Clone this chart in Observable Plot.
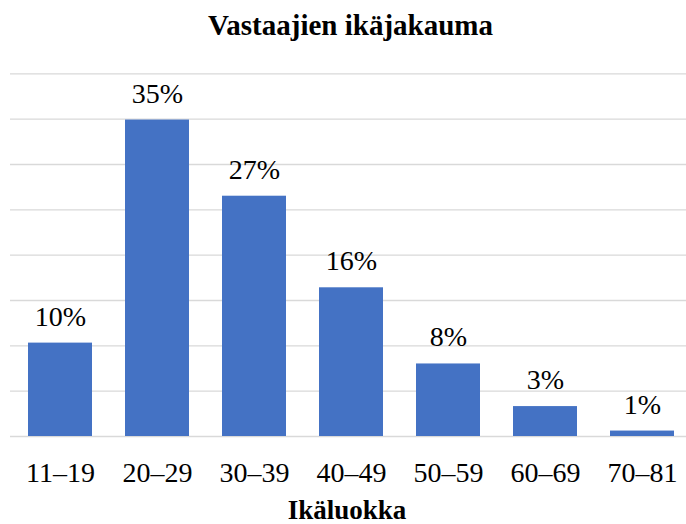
<!DOCTYPE html>
<html>
<head>
<meta charset="utf-8">
<script src="https://cdn.jsdelivr.net/npm/d3@7"></script>
<script src="https://cdn.jsdelivr.net/npm/@observablehq/plot@0.6"></script>
<style>
  html, body { margin: 0; padding: 0; background: #fff; }
  #wrap { width: 686px; height: 524px; overflow: hidden; }
  #title { height: 50px; line-height: 50px; font-weight: bold; font-size: 29px; font-family: "Liberation Serif", "Tinos", "Times New Roman", "DejaVu Serif", serif; text-align: center; padding-left: 15px; box-sizing: border-box; width: 686px; color: #000; white-space: nowrap; }
  svg { display: block; }
  #chart svg, #chart svg text, #chart svg g { font-family: "Liberation Serif", "Tinos", "Times New Roman", "DejaVu Serif", serif !important; }
</style>
</head>
<body>
<div id="wrap">
  <div id="title">Vastaajien ikäjakauma</div>
  <div id="chart"></div>
</div>
<script>
const categories = ["11–19", "20–29", "30–39", "40–49", "50–59", "60–69", "70–81"];
const values = [10.3, 34.9, 26.5, 16.4, 8.0, 3.3, 0.6];
const valueLabels = ["10%", "35%", "27%", "16%", "8%", "3%", "1%"];
const gridTicks = [0, 5, 10, 15, 20, 25, 30, 35, 40];
const xTitle = "Ikäluokka";

const data = categories.map((c, i) => ({ cat: c, value: values[i], label: valueLabels[i] }));
const serif = "'Liberation Serif', 'DejaVu Serif', serif";

const chart = Plot.plot({
  width: 686,
  height: 474,
  marginLeft: 10,
  marginRight: 0,
  marginTop: 23.3,
  marginBottom: 88,
  style: { fontFamily: serif, fontSize: "28px", color: "#000", background: "#fff" },
  x: { domain: categories, range: [10.25, 692.75], paddingInner: 0.336, paddingOuter: 0.168, label: null },
  y: { domain: [0, 40], axis: null },
  marks: [
    Plot.ruleY(gridTicks, { stroke: "#d9d9d9", strokeWidth: 1.3 }),
    Plot.barY(data, { x: "cat", y: "value", fill: "#4472C4" }),
    Plot.text(data, { x: "cat", y: "value", text: "label", lineAnchor: "bottom", dy: -17.5, fontSize: 28, fill: "#000" }),
    Plot.axisX({ tickSize: 0, tickPadding: 26, fontSize: 28, label: null, fill: "#000" }),
    Plot.text([xTitle], { frameAnchor: "bottom", lineAnchor: "bottom", dy: 82, dx: -1.5, fontSize: 27, fontWeight: "bold", fill: "#000" })
  ]
});
document.getElementById("chart").appendChild(chart);
</script>
</body>
</html>
